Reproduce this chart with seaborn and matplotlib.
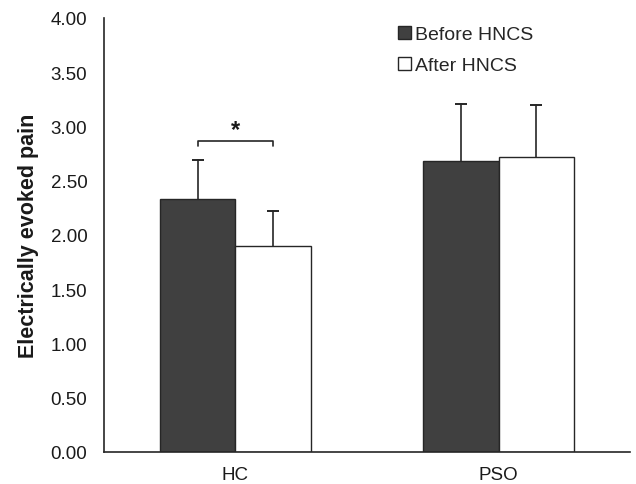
import matplotlib
matplotlib.use("Agg")
import matplotlib.pyplot as plt
import seaborn as sns
import pandas as pd
from matplotlib.patches import Patch

groups = ["HC", "PSO"]
conditions = ["Before HNCS", "After HNCS"]
before_means = [2.33, 2.68]
after_means = [1.90, 2.72]
before_err = [0.36, 0.53]
after_err = [0.32, 0.48]
yticks = [0.0, 0.5, 1.0, 1.5, 2.0, 2.5, 3.0, 3.5, 4.0]

df = pd.DataFrame({
    "group": groups * 2,
    "condition": [conditions[0]] * 2 + [conditions[1]] * 2,
    "value": before_means + after_means,
    "err": before_err + after_err,
})

sns.set_theme(style="white")
plt.rcParams["font.family"] = ["Liberation Sans", "DejaVu Sans"]

fig = plt.figure(figsize=(6.36, 4.85), dpi=100)
ax = fig.add_axes([0.1635, 0.066, 0.8271, 0.895])

colors = {"Before HNCS": "#404040", "After HNCS": "#ffffff"}
sns.barplot(data=df, x="group", y="value", hue="condition", order=groups,
            hue_order=conditions, palette=colors, width=0.574, errorbar=None,
            edgecolor="#262626", linewidth=1.0, ax=ax, legend=False)

# error bars (upper only)
errs = before_err + after_err
for patch, e in zip(ax.patches, errs):
    xc = patch.get_x() + patch.get_width() / 2
    h = patch.get_height()
    ax.plot([xc, xc], [h, h + e], color="#262626", lw=1.2, zorder=3)
    ax.plot([xc], [h + e], marker="_", markersize=9, markeredgewidth=1.4,
            color="#262626", zorder=3)

# significance bracket between HC bars
p0, p1 = ax.patches[0], ax.patches[2]
x0 = p0.get_x() + p0.get_width() / 2
x1 = p1.get_x() + p1.get_width() / 2
yb = 2.87
ax.plot([x0, x0, x1, x1], [yb - 0.05, yb, yb, yb - 0.05], color="#262626", lw=1.2)
ax.text((x0 + x1) / 2, yb + 0.0, "*", ha="center", va="bottom", fontsize=17,
        fontweight="bold", color="#1a1a1a")

ax.set_xlim(-0.5, 1.5)
ax.set_ylim(0, 4.0)
ax.set_yticks(yticks)
ax.set_yticklabels([f"{t:.2f}" for t in yticks])
ax.tick_params(axis="both", length=0, labelsize=13.5, colors="#1a1a1a")
ax.tick_params(axis="y", pad=12)
ax.tick_params(axis="x", pad=10)
ax.set_xlabel("")
ax.set_ylabel("Electrically evoked pain", fontsize=15.5, fontweight="bold",
              color="#1a1a1a", labelpad=8)

for s in ["top", "right"]:
    ax.spines[s].set_visible(False)
for s in ["left", "bottom"]:
    ax.spines[s].set_color("#262626")
    ax.spines[s].set_linewidth(1.2)

handles = [Patch(facecolor=colors[c], edgecolor="#262626", linewidth=1.0, label=c)
           for c in conditions]
ax.legend(handles=handles, loc="upper left", bbox_to_anchor=(0.545, 1.0),
          frameon=False, fontsize=14, handlelength=0.65, handleheight=0.65,
          handletextpad=0.2, labelspacing=0.7, borderaxespad=0)

fig.savefig("out.png", dpi=100)
